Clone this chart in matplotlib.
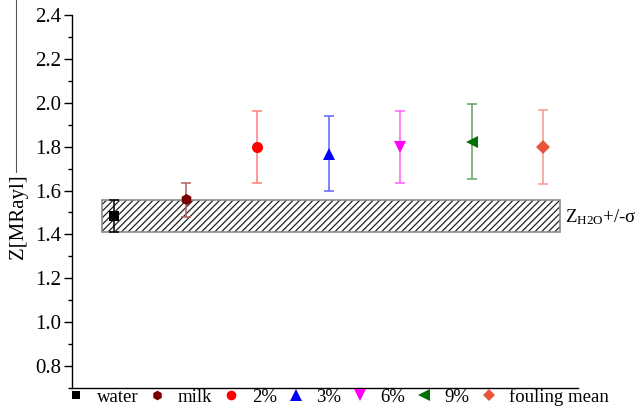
import matplotlib
matplotlib.use("Agg")
import matplotlib.pyplot as plt
from matplotlib.patches import Rectangle
from matplotlib.lines import Line2D
from matplotlib.ticker import MultipleLocator

plt.rcParams['font.family'] = ['Liberation Serif', 'DejaVu Serif']
plt.rcParams['mathtext.fontset'] = 'custom'
plt.rcParams['mathtext.rm'] = 'Liberation Serif'
plt.rcParams['hatch.linewidth'] = 0.9

labels = ['water', 'milk', '2%', '3%', '6%', '9%', 'fouling mean']
means = [1.485, 1.560, 1.797, 1.768, 1.800, 1.823, 1.797]
err_lo = [0.074, 0.079, 0.164, 0.170, 0.164, 0.170, 0.167]
err_hi = [0.072, 0.073, 0.167, 0.170, 0.164, 0.171, 0.171]
markers = ['s', 'h', 'o', '^', 'v', '<', 'D']
colors = ['black', '#7a0000', '#ff0000', '#0000ff', '#ff00ff', '#007000', '#e8553a']
err_colors = ['black', '#b06060', '#ff8080', '#6060ff', '#ff60ff', '#60a060', '#f29a88']
msizes = [7, 8, 8, 9, 9, 9, 7]

water_mean = 1.484
water_sigma = 0.073

fig = plt.figure(figsize=(6.4, 4.11), dpi=100)
ax = fig.add_axes([72/640, 23/411, (578-72)/640, (388-15)/411])

xs = list(range(1, len(labels) + 1))

box_x0, box_x1 = 0.83, 7.24
ax.add_patch(Rectangle((box_x0, water_mean - water_sigma), box_x1 - box_x0, 2 * water_sigma,
                       facecolor='white', edgecolor='#222222', hatch='/////', lw=0, zorder=1))
ax.add_patch(Rectangle((box_x0, water_mean - water_sigma), box_x1 - box_x0, 2 * water_sigma,
                       facecolor='none', edgecolor='#8a8a8a', lw=1.2, zorder=2))

handles = []
for x, m, lo, hi, mk, c, ec, ms, lab in zip(xs, means, err_lo, err_hi, markers, colors, err_colors, msizes, labels):
    ax.errorbar([x], [m], yerr=[[lo], [hi]], fmt='none', ecolor=ec, elinewidth=1.1,
                capsize=3.5, capthick=1.1, zorder=3)
    ax.plot([x], [m], marker=mk, color=c, markersize=ms, linestyle='none', zorder=4,
            markeredgewidth=0)
    handles.append(Line2D([], [], marker=mk, color=c, markersize=ms - 1, linestyle='none',
                          markeredgewidth=0, label=lab))

ax.text(7.31, water_mean - 0.005, r'$\mathrm{Z_{H2O}}$+/-σ', fontsize=13.5, va='center', ha='left')

ax.set_xlim(0.41, 7.49)
ax.set_ylim(0.7, 2.4)
ax.yaxis.set_minor_locator(MultipleLocator(0.1))
ax.set_yticks([0.8, 1.0, 1.2, 1.4, 1.6, 1.8, 2.0, 2.2, 2.4])
ax.set_yticklabels(['0.8', '1.0', '1.2', '1.4', '1.6', '1.8', '2.0', '2.2', '2.4'])
ax.set_xticks([])
ax.spines['top'].set_visible(False)
ax.spines['right'].set_visible(False)
ax.spines['left'].set_linewidth(1.0)
ax.spines['bottom'].set_linewidth(1.0)
ax.tick_params(axis='y', which='major', direction='out', length=6, width=1.0, labelsize=15, pad=2)
ax.tick_params(axis='y', which='minor', direction='out', length=3, width=1.0)
ax.set_ylabel('Z[MRayl]', fontsize=15)
ax.yaxis.set_label_coords(-0.087, 0.46)

ax.legend(handles=handles, loc='upper left', bbox_to_anchor=(-0.01, 0.0), ncol=7,
          frameon=False, fontsize=13.5, handlelength=1.0, handletextpad=0.6,
          columnspacing=0.5, borderaxespad=0.0, borderpad=0.0)

fig.add_artist(Line2D([16/640, 16/640], [1.0, 1 - 172/411], color='#555555', lw=0.8))

fig.savefig('out.png', dpi=100)
